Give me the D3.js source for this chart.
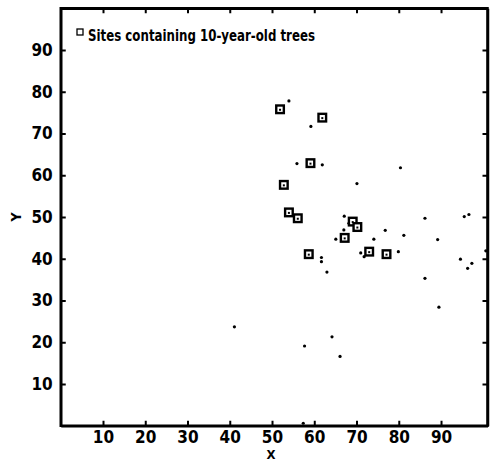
<!DOCTYPE html>
<html><head><meta charset="utf-8">
<script src="https://cdn.jsdelivr.net/npm/d3@7"></script>
<style>
html,body{margin:0;padding:0;background:#fff;}
svg text{font-family:"Liberation Sans Narrow","DejaVu Sans Condensed","Arial Narrow",sans-serif;font-weight:bold;font-stretch:condensed;fill:#000;}
</style></head>
<body>
<svg id="chart" width="491" height="463"></svg>
<script>
// Data
const xTicks = [10,20,30,40,50,60,70,80,90];
const yTicks = [10,20,30,40,50,60,70,80,90];
const legendLabel = "Sites containing 10-year-old trees";
const xLabel = "X";
const yLabel = "Y";

// sites containing 10-year-old trees (squares)
const siteX = [51.9,61.9,59.1,52.8,54.0,56.1,69.1,70.2,67.2,58.7,73.0,77.1];
const siteY = [75.8,73.8,62.9,57.7,51.1,49.7,48.9,47.6,45.0,41.1,41.7,41.1];

// other sites (dots)
const dotX = [54.0,59.2,55.9,61.9,80.4,70.1,67.1,86.2,95.5,96.6,68.2,67.0,76.8,81.2,74.1,65.1,89.2,61.7,61.7,71.0,71.8,79.9,94.6,96.3,97.3,100.6,63.0,86.2,89.5,64.2,57.7,66.1,41.1,57.4];
const dotY = [77.8,71.7,62.8,62.5,61.8,58.0,50.2,49.7,50.1,50.6,48.5,46.9,46.8,45.6,44.7,44.7,44.6,40.3,39.3,41.4,40.5,41.7,39.9,37.7,38.9,41.9,36.8,35.3,28.4,21.3,19.1,16.6,23.7,0.6];

const svg = d3.select("#chart");
const L = 60.75, R = 487.5, T = 8.25, B = 425.75;
const x = d3.scaleLinear().domain([0,101]).range([L,R]);
const y = d3.scaleLinear().domain([0,100]).range([B,T]);

const fs = 17;
// axes with inward ticks
const gB = svg.append("g").attr("transform",`translate(0,${B})`)
  .call(d3.axisBottom(x).tickValues(xTicks).tickSize(-5).tickPadding(5).tickSizeOuter(0));
const gT = svg.append("g").attr("transform",`translate(0,${T})`)
  .call(d3.axisTop(x).tickValues(xTicks).tickSize(-5).tickFormat("").tickSizeOuter(0));
const gL = svg.append("g").attr("transform",`translate(${L},0)`)
  .call(d3.axisLeft(y).tickValues(yTicks).tickSize(-5).tickPadding(8).tickSizeOuter(0));
const gR = svg.append("g").attr("transform",`translate(${R},0)`)
  .call(d3.axisRight(y).tickValues(yTicks).tickSize(-5).tickFormat("").tickSizeOuter(0));
[gB,gT,gL,gR].forEach(g=>{
  g.select(".domain").attr("stroke","#000").attr("stroke-width",2.5);
  g.selectAll(".tick line").attr("stroke","#000").attr("stroke-width",2);
  g.selectAll(".tick text").attr("font-size",fs).attr("font-family",null);
});
// full frame
svg.append("rect").attr("x",L).attr("y",T).attr("width",R-L).attr("height",B-T)
  .attr("fill","none").attr("stroke","#000").attr("stroke-width",2.5);

// axis titles
svg.append("text").attr("x",(L+R)/2-3).attr("y",459).attr("text-anchor","middle")
  .attr("font-size",13).text(xLabel);
svg.append("text").attr("transform",`translate(21,${y(50)}) rotate(-90)`)
  .attr("text-anchor","middle").attr("font-size",14).text(yLabel);

// dots
svg.append("g").selectAll("circle").data(dotX.map((d,i)=>[d,dotY[i]])).join("circle")
  .attr("cx",d=>x(d[0])).attr("cy",d=>y(d[1])).attr("r",1.6).attr("fill","#000");

// squares
const sq = svg.append("g").selectAll("g").data(siteX.map((d,i)=>[d,siteY[i]])).join("g")
  .attr("transform",d=>`translate(${x(d[0])},${y(d[1])})`);
sq.append("rect").attr("x",-3.8).attr("y",-3.8).attr("width",7.6).attr("height",7.6)
  .attr("fill","#fff").attr("stroke","#000").attr("stroke-width",2.4);
sq.append("rect").attr("x",-1).attr("y",-0.5).attr("width",2).attr("height",2).attr("fill","#000");

// legend
svg.append("rect").attr("x",77).attr("y",29).attr("width",6).attr("height",6)
  .attr("fill","#fff").attr("stroke","#000").attr("stroke-width",1.3);
svg.append("text").attr("x",88).attr("y",41).attr("font-size",15)
  .attr("textLength",227).attr("lengthAdjust","spacingAndGlyphs").text(legendLabel);
</script>
</body></html>
